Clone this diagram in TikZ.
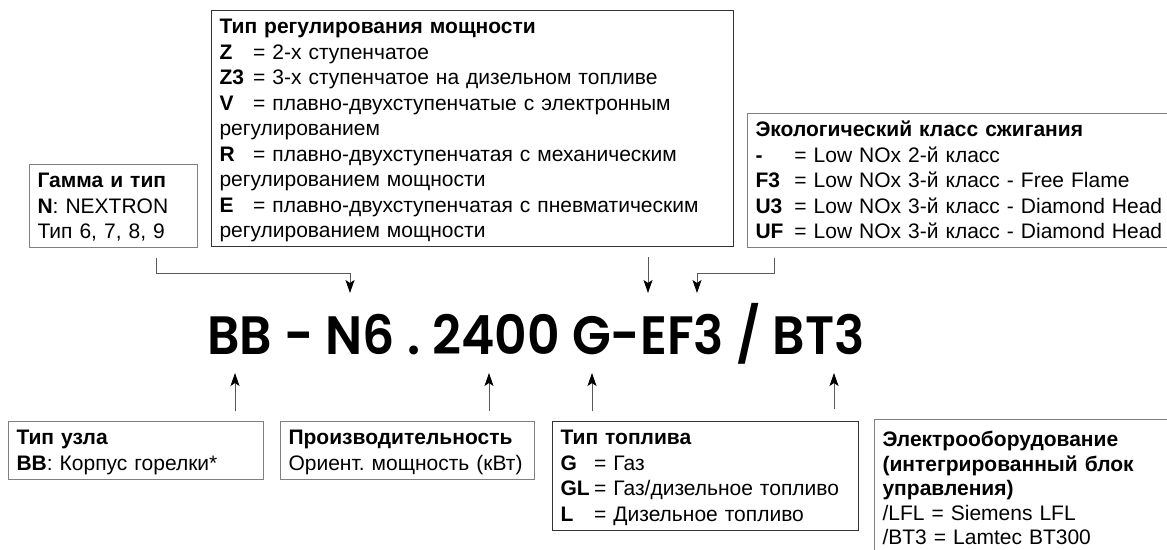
\documentclass[tikz,border=0pt]{standalone}
\usepackage{fontspec}
\setmainfont{Liberation Sans}
\IfFontExistsTF{Poppins SemiBold}
    {\newfontfamily\codefont{Poppins SemiBold}}
    {\newfontfamily\codefont{Poppins}}
\usepackage{xcolor}
\usepackage{tikz}
\usetikzlibrary{arrows.meta}

\frenchspacing
% bold code letter in a fixed column before the "="
\newcommand{\key}[2][1.6em]{\makebox[#1][l]{\textbf{#2}}}

\begin{document}
\begin{tikzpicture}[
    x=1pt, y=-1pt,
    % ── Legend boxes ─────────────────────────────────────────────────
    box/.style={
        draw=black!50, rectangle, anchor=north west,
        inner xsep=8pt, inner ysep=0pt, text height=23pt,
        align=left, font=\fontsize{21}{25.5}\selectfont,
        line width=1.1pt
    },
    dark/.style={draw=black!80},
    % ── Arrows: thin grey shaft, black head ──────────────────────────
    arrow/.style={line width=0.9pt, draw=black!65,
        -{Stealth[length=13pt, width=9pt, inset=3pt, color=black]}},
    % ── Type code in large letters ───────────────────────────────────
    code/.style={font=\codefont\fontsize{54}{60}\selectfont,
        anchor=base, inner sep=0pt}
]
    \useasboundingbox (0,0) rectangle (1167,549);
    \clip (0,0) rectangle (1167,549);

% ══════════════════════════════════════════════════════════════════════
% TYPE CODE
% ══════════════════════════════════════════════════════════════════════

    \node[code] (code) at (536,354)
        {\scalebox{0.935}[1]{BB - N6 . 2400 G-EF3 / BT3}};

    % ── Arrow tips on the code ──
    \coordinate (tipN) at (350,293);
    \coordinate (tipE) at (648,293);
    \coordinate (tipF) at (697,293);
    \coordinate (tipB) at (235,373);
    \coordinate (tipP) at (489,373);
    \coordinate (tipG) at (592,373);
    \coordinate (tipT) at (834,373);

% ══════════════════════════════════════════════════════════════════════
% UPPER BOXES
% ══════════════════════════════════════════════════════════════════════

    \node[box, text width=152pt, text depth=60pt] (range) at (29,164) {
        \textbf{Гамма и тип}\\
        \textbf{N}: NEXTRON\\
        Тип 6, 7, 8, 9
    };

    \node[box, dark, text width=506pt, text depth=213pt] (power) at (211,10) {
        \textbf{Тип регулирования мощности}\\
        \key{Z}= 2-х ступенчатое\\
        \key{Z3}= 3-х ступенчатое на дизельном топливе\\
        \key{V}= плавно-двухступенчатые с электронным\\
        регулированием\\
        \key{R}= плавно-двухступенчатая с механическим\\
        регулированием мощности\\
        \key{E}= плавно-двухступенчатая с пневматическим\\
        регулированием мощности
    };

    \node[box, text width=440pt, text depth=111pt] (eco) at (747,113) {
        \textbf{Экологический класс сжигания}\\
        \key[1.85em]{-}= Low NOx 2-й класс\\
        \key[1.85em]{F3}= Low NOx 3-й класс - Free Flame\\
        \key[1.85em]{U3}= Low NOx 3-й класс - Diamond Head\\
        \key[1.85em]{UF}= Low NOx 3-й класс - Diamond Head
    };

% ══════════════════════════════════════════════════════════════════════
% LOWER BOXES
% ══════════════════════════════════════════════════════════════════════

    \node[box, text width=239pt, text depth=34.5pt] (unit) at (8,421) {
        \textbf{Тип узла}\\
        \textbf{BB}: Корпус горелки*
    };

    \node[box, text width=238pt, text depth=34.5pt] (rating) at (280,421) {
        \textbf{Производительность}\\
        Ориент. мощность (кВт)
    };

    \node[box, dark, text width=290pt, text depth=85.5pt] (fuel) at (552,421) {
        \textbf{Тип топлива}\\
        \key{G}= Газ\\
        \key{GL}= Газ/дизельное топливо\\
        \key{L}= Дизельное топливо
    };

    \node[box, text width=320pt, text height=27pt, text depth=130pt,
          font=\fontsize{21}{24.5}\selectfont] (elec) at (874,419) {
        \textbf{Электрооборудование}\\
        \textbf{(интегрированный блок}\\
        \textbf{управления)}\\
        /LFL = Siemens LFL\\
        /BT3 = Lamtec BT300
    };

% ══════════════════════════════════════════════════════════════════════
% CONNECTIONS
% ══════════════════════════════════════════════════════════════════════

    \path[arrow] ([xshift=127pt, yshift=-10pt]range.south west)
        |- ([yshift=20pt]tipN) -- (tipN);

    \path[arrow] ([yshift=-10pt]power.south -| tipE) -- (tipE);

    \path[arrow] ([xshift=27pt, yshift=-10pt]eco.south west)
        |- ([yshift=20pt]tipF) -- (tipF);

    \path[arrow] ([yshift=10pt]unit.north -| tipB) -- (tipB);
    \path[arrow] ([yshift=10pt]rating.north -| tipP) -- (tipP);
    \path[arrow] ([yshift=10pt]fuel.north -| tipG) -- (tipG);
    \path[arrow] ([yshift=10pt]elec.north -| tipT) -- (tipT);

\end{tikzpicture}
\end{document}
